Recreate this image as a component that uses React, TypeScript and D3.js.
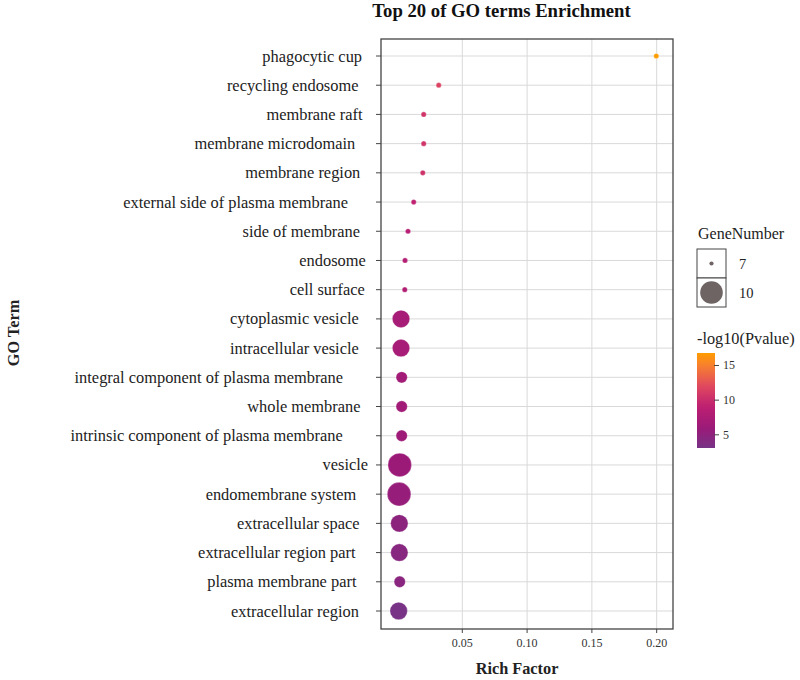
import React, { useLayoutEffect, useRef } from "react";
import * as d3 from "d3";

const terms = [
  "phagocytic cup",
  "recycling endosome",
  "membrane raft",
  "membrane microdomain",
  "membrane region",
  "external side of plasma membrane",
  "side of membrane",
  "endosome",
  "cell surface",
  "cytoplasmic vesicle",
  "intracellular vesicle",
  "integral component of plasma membrane",
  "whole membrane",
  "intrinsic component of plasma membrane",
  "vesicle",
  "endomembrane system",
  "extracellular space",
  "extracellular region part",
  "plasma membrane part",
  "extracellular region",
];
const richFactor = [0.1997, 0.0318, 0.0202, 0.0202, 0.0195, 0.0125, 0.0081, 0.0058, 0.0056, 0.0027, 0.0027, 0.0032, 0.0032, 0.0032, 0.0017, 0.0012, 0.0014, 0.0014, 0.0017, 0.0009];
const geneNumber = [7, 7, 7, 7, 7, 7, 7, 7, 7, 9, 9, 8, 8, 8, 10, 10, 9, 9, 8, 9];
const negLogP = [16.8, 11.6, 10.6, 10.6, 10.4, 9.2, 8.6, 8.2, 8.0, 7.0, 7.0, 6.6, 6.5, 6.3, 6.0, 5.6, 4.8, 4.5, 4.6, 3.2];
const xTicks = [0.05, 0.1, 0.15, 0.2];
const sizeBreaks = [7, 10];
const colorTicks = [5, 10, 15];
const colorStops = [3.1, 6, 9, 12, 15, 16.8];
const colorRange = ["#773386", "#9b1a78", "#bd1f72", "#e0485f", "#f7802f", "#ff9c00"];

export default function App() {
  const W = 800, H = 680;
  const L = 381, R = 673, T = 39, B = 629;
  const x = d3.scaleLinear().domain([-0.01275, 0.2126]).range([L, R]);
  const y = d3.scalePoint<string>().domain(terms).range([56, 611]);
  const r = d3.scaleLinear().domain([7, 10]).range([2.6, 11.8]);
  const color = d3.scaleLinear<string>().domain(colorStops).range(colorRange).interpolate(d3.interpolateRgb);
  const cbTop = 353, cbBot = 448;
  const cy = d3.scaleLinear().domain([3.1, 16.8]).range([cbBot, cbTop]);
  const gradStops = d3.range(0, 1.0001, 0.05);
  const font = "'Liberation Serif', 'Times New Roman', serif";
  const labelRef = useRef<SVGGElement>(null);

  useLayoutEffect(() => {
    const g = labelRef.current;
    if (!g) return;
    g.querySelectorAll("text").forEach((t) => {
      const len = (t as SVGTextElement).getComputedTextLength();
      t.setAttribute("x", String(373.2 - 0.112 * len));
    });
  }, []);

  return (
    <svg width={W} height={H} style={{ position: "absolute", left: 0, top: 0 }} fontFamily={font}>
      <rect width={W} height={H} fill="#fff" />
      <defs>
        <linearGradient id="cb" x1="0" y1="1" x2="0" y2="0">
          {gradStops.map((t, i) => (
            <stop key={i} offset={t} stopColor={color(3.1 + t * (16.8 - 3.1))} />
          ))}
        </linearGradient>
      </defs>
      <text x={501.5} y={17} textAnchor="middle" fontWeight="bold" fontSize={18.7} fill="#111">
        Top 20 of GO terms Enrichment
      </text>
      {/* grid */}
      {xTicks.map((t) => (
        <line key={t} x1={x(t)} x2={x(t)} y1={T} y2={B} stroke="#d9d9d9" strokeWidth={1} />
      ))}
      {terms.map((t) => (
        <line key={t} x1={L} x2={R} y1={y(t)} y2={y(t)} stroke="#d9d9d9" strokeWidth={1} />
      ))}
      <rect x={L} y={T} width={R - L} height={B - T} fill="none" stroke="#444" strokeWidth={1.3} />
      {/* y axis */}
      {terms.map((t) => (
        <line key={t} x1={L - 5} x2={L} y1={y(t)} y2={y(t)} stroke="#444" />
      ))}
      <g ref={labelRef}>
        {terms.map((t) => (
          <text key={t} x={362} y={(y(t) as number) + 5.5} textAnchor="end" fontSize={16.4} fill="#222">
            {t}
          </text>
        ))}
      </g>
      {/* x axis */}
      {xTicks.map((t) => (
        <g key={t}>
          <line x1={x(t)} x2={x(t)} y1={B} y2={B + 4} stroke="#444" />
          <text x={x(t)} y={B + 18} textAnchor="middle" fontSize={12} fill="#333">
            {t.toFixed(2)}
          </text>
        </g>
      ))}
      <text x={517} y={674} textAnchor="middle" fontWeight="bold" fontSize={16.3} fill="#222">
        Rich Factor
      </text>
      <text transform="translate(19,333) rotate(-90)" textAnchor="middle" fontWeight="bold" fontSize={16.3} fill="#222">
        GO Term
      </text>
      {/* points */}
      {terms.map((t, i) => (
        <circle key={t} cx={x(richFactor[i])} cy={y(t)} r={r(geneNumber[i])} fill={color(negLogP[i])} stroke="#fff" strokeOpacity={0.5} strokeWidth={0.6} />
      ))}
      {/* size legend */}
      <text x={698} y={239} fontSize={16} fill="#222">GeneNumber</text>
      {sizeBreaks.map((b, i) => {
        const top = 249 + i * 29;
        return (
          <g key={b}>
            <rect x={697} y={top} width={29} height={29} fill="#fff" stroke="#444" strokeWidth={1} />
            <circle cx={711.5} cy={top + 14.5} r={b === 7 ? 2.1 : 11.3} fill="#6e6464" />
            <text x={739} y={top + 20} fontSize={14.5} fill="#222">{b}</text>
          </g>
        );
      })}
      {/* color legend */}
      <text x={697} y={344} fontSize={16.3} fill="#222">-log10(Pvalue)</text>
      <rect x={697} y={cbTop} width={18} height={cbBot - cbTop} fill="url(#cb)" />
      {colorTicks.map((v) => (
        <g key={v}>
          <line x1={714} x2={719} y1={cy(v)} y2={cy(v)} stroke="#444" />
          <text x={723} y={cy(v) + 4} fontSize={12} fill="#333">{v}</text>
        </g>
      ))}
    </svg>
  );
}
